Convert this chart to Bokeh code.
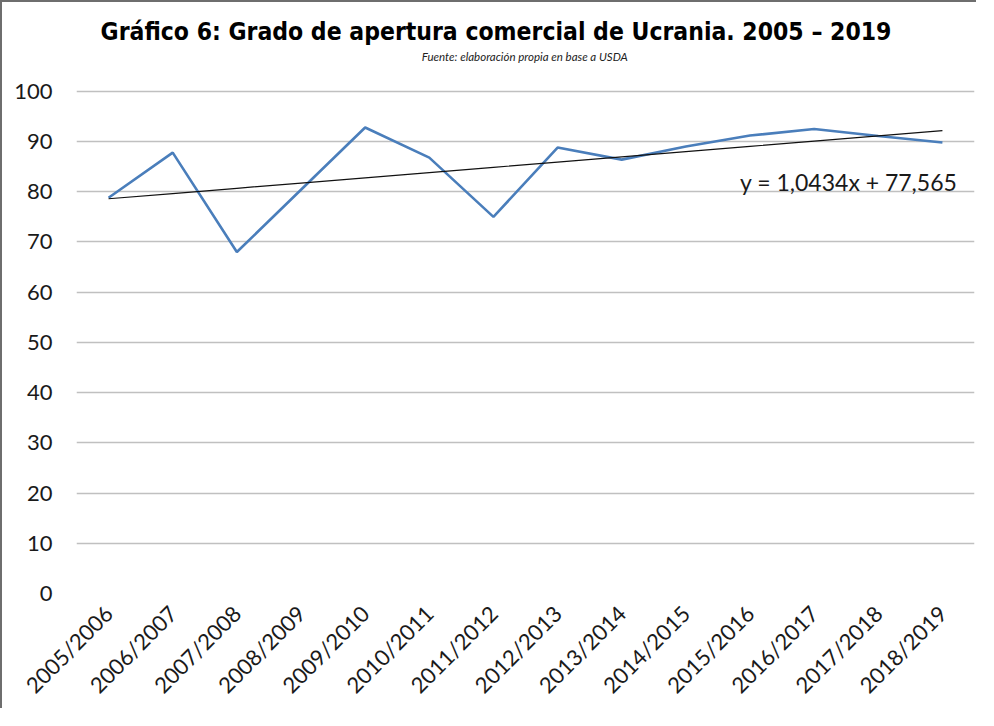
import math
from bokeh.plotting import figure
from bokeh.models import Range1d, FixedTicker, InlineStyleSheet
from bokeh.core.properties import value
from bokeh.embed import file_html
from bokeh.resources import INLINE

# ---- data ----
seasons = ["2005/2006", "2006/2007", "2007/2008", "2008/2009", "2009/2010",
           "2010/2011", "2011/2012", "2012/2013", "2013/2014", "2014/2015",
           "2015/2016", "2016/2017", "2017/2018", "2018/2019"]
apertura = [78.8, 87.8, 68.0, 80.4, 92.8, 86.8, 75.0, 88.8, 86.4, 89.0,
            91.2, 92.5, 91.1, 89.8]
y_ticks = [0, 10, 20, 30, 40, 50, 60, 70, 80, 90, 100]
trend_slope = 1.0434
trend_intercept = 77.565
trend_label = "y = 1,0434x + 77,565"
title_text = "Gráfico 6: Grado de apertura comercial de Ucrania. 2005 – 2019"
subtitle_text = "Fuente: elaboración propia en base a USDA"

trend = [trend_slope * (i + 1) + trend_intercept for i in range(len(seasons))]

p = figure(x_range=seasons, y_range=Range1d(0, 116.3),
           width=976, height=708, output_backend="svg", toolbar_location=None,
           min_border_left=74, min_border_right=4, min_border_top=7,
           min_border_bottom=117)
p.stylesheets = [InlineStyleSheet(css=":host { border-left: 2px solid #6e6e6e; border-top: 2px solid #6e6e6e; }")]
p.outline_line_color = None
p.background_fill_color = "white"
p.border_fill_color = "white"

# grid
p.xgrid.grid_line_color = None
p.ygrid.grid_line_color = "#c0c0c0"
p.ygrid.grid_line_width = 1.5
p.yaxis.ticker = FixedTicker(ticks=y_ticks)

# axes
for ax in (p.xaxis, p.yaxis):
    ax.axis_line_color = None
    ax.major_tick_line_color = None
    ax.minor_tick_line_color = None
    ax.major_tick_out = 0
    ax.major_tick_in = 0
    ax.major_label_text_font = "Lato"
    ax.major_label_text_color = "#1a1a1a"
    ax.major_label_text_font_size = "22px"
p.yaxis.major_label_standoff = 24
p.xaxis.major_label_orientation = math.pi / 4
p.xaxis.major_label_standoff = 16

# series
p.line(x=seasons, y=apertura, line_color="#4a7ebb", line_width=2.6)
p.line(x=seasons, y=trend, line_color="#111111", line_width=1.2)

# equation label
p.text(x=[13.5], y=[82], text=[trend_label], x_offset=15,
       text_align="right", text_baseline="middle",
       text_font=value("Lato"), text_font_size="23px", text_color="#1a1a1a")

# title & subtitle
p.text(x=[6.54], y=[112.0], text=[title_text], text_align="center",
       text_baseline="middle", text_font=value("DejaVu Sans Condensed"),
       text_font_style="bold", text_font_size="24.5px", text_color="#000000")
p.text(x=[6.99], y=[106.9], text=[subtitle_text], text_align="center",
       text_baseline="middle", text_font=value("Lato"),
       text_font_style="italic", text_font_size="11.5px", text_color="#222222")

open("out.html", "w").write(file_html(p, INLINE))
